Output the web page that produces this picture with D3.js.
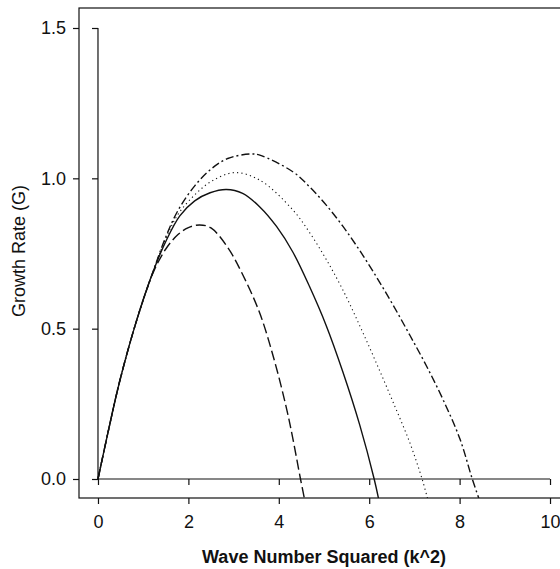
<!DOCTYPE html>
<html>
<head>
<meta charset="utf-8">
<script src="https://cdn.jsdelivr.net/npm/d3@7"></script>
<style>
  html, body { margin: 0; padding: 0; background: #fff; }
  svg { display: block; }
  text { font-family: "Liberation Sans", Arial, Helvetica, sans-serif; fill: #111; }
</style>
</head>
<body>
<div id="chart"></div>
<script>
// ---- data ----
const xTicks = [0, 2, 4, 6, 8, 10];
const yTicks = [0, 0.5, 1.0, 1.5];
const yTickLabels = ["0.0", "0.5", "1.0", "1.5"];
const xTitle = "Wave Number Squared (k^2)";
const yTitle = "Growth Rate (G)";

// k^2 and G samples for each curve
const dashedK  = [0, 0.2, 0.48, 0.86, 1.22, 1.5, 1.77, 2.0, 2.25, 2.5, 2.87, 3.2, 3.58, 3.91, 4.17, 4.31, 4.48, 4.58];
const dashedG  = [0, 0.14, 0.325, 0.53, 0.686, 0.765, 0.813, 0.836, 0.845, 0.835, 0.77, 0.68, 0.551, 0.39, 0.235, 0.135, 0, -0.075];

const solidK   = [0, 0.2, 0.48, 0.86, 1.22, 1.5, 1.81, 2.14, 2.48, 2.84, 3.2, 3.58, 3.95, 4.31, 4.68, 5.05, 5.42, 5.79, 6.11, 6.22];
const solidG   = [0, 0.14, 0.325, 0.53, 0.69, 0.79, 0.875, 0.925, 0.952, 0.963, 0.95, 0.905, 0.84, 0.755, 0.64, 0.51, 0.355, 0.18, 0, -0.075];

const dottedK  = [0, 0.2, 0.48, 0.86, 1.22, 1.5, 1.77, 2.14, 2.51, 3.02, 3.58, 4.31, 4.68, 5.05, 5.42, 5.79, 6.16, 6.53, 6.90, 7.17, 7.3];
const dottedG  = [0, 0.14, 0.325, 0.53, 0.69, 0.80, 0.88, 0.945, 0.99, 1.019, 0.994, 0.895, 0.82, 0.73, 0.628, 0.51, 0.385, 0.255, 0.12, 0, -0.07];

const dashDotK = [0, 0.2, 0.48, 0.86, 1.22, 1.5, 1.77, 2.14, 2.51, 2.87, 3.39, 3.58, 4.31, 4.68, 5.05, 5.42, 5.79, 6.16, 6.53, 6.90, 7.27, 7.64, 8.01, 8.28, 8.45];
const dashDotG = [0, 0.14, 0.325, 0.53, 0.69, 0.805, 0.893, 0.975, 1.032, 1.066, 1.081, 1.077, 1.022, 0.972, 0.911, 0.84, 0.76, 0.672, 0.578, 0.478, 0.375, 0.262, 0.132, 0, -0.075];

const seriesNames = ["dashed", "solid", "dotted", "dashdot"];
const seriesK = [dashedK, solidK, dottedK, dashDotK];
const seriesG = [dashedG, solidG, dottedG, dashDotG];
const seriesDash = [ "10,4", null, "1.2,3.2", "8,3,2,3" ];

// ---- layout ----
const W = 560, H = 569;
const frame = { left: 79, top: 8, right: 569, bottom: 498 };

const svg = d3.select("#chart").append("svg")
  .attr("width", W).attr("height", H);

const x = d3.scaleLinear().domain([-0.42, 10.42]).range([frame.left, frame.right]);
const y = d3.scaleLinear().domain([-0.0632, 1.5665]).range([frame.bottom, frame.top]);

svg.append("defs").append("clipPath").attr("id", "plotclip")
  .append("rect")
  .attr("x", frame.left).attr("y", frame.top)
  .attr("width", frame.right - frame.left).attr("height", frame.bottom - frame.top);

// frame box
svg.append("rect")
  .attr("x", frame.left).attr("y", frame.top)
  .attr("width", frame.right - frame.left).attr("height", frame.bottom - frame.top)
  .attr("fill", "none").attr("stroke", "#111").attr("stroke-width", 1.2);

// outer axes with labels
const xAxis = d3.axisBottom(x).tickValues(xTicks).tickSize(6).tickPadding(11)
  .tickFormat(d3.format("d")).tickSizeOuter(0);
const gx = svg.append("g").attr("transform", `translate(0,${frame.bottom})`).call(xAxis);
gx.select(".domain").remove();

const yAxis = d3.axisLeft(y).tickValues(yTicks).tickSize(6).tickPadding(7)
  .tickFormat((d, i) => yTickLabels[i]).tickSizeOuter(0);
const gy = svg.append("g").attr("transform", `translate(${frame.left},0)`).call(yAxis);
gy.select(".domain").remove();

// inner axes through the origin (no labels); axis line spans only the tick range
const xAxisIn = d3.axisBottom(x).tickValues(xTicks).tickSize(6).tickFormat("").tickSizeOuter(0);
const gxi = svg.append("g").attr("transform", `translate(0,${y(0)})`).call(xAxisIn);
gxi.select(".domain").remove();
gxi.append("line").attr("x1", x(xTicks[0])).attr("x2", x(xTicks[xTicks.length - 1]))
  .attr("y1", 0).attr("y2", 0).attr("class", "axisline");

const yAxisIn = d3.axisLeft(y).tickValues(yTicks).tickSize(6).tickFormat("").tickSizeOuter(0);
const gyi = svg.append("g").attr("transform", `translate(${x(0)},0)`).call(yAxisIn);
gyi.select(".domain").remove();
gyi.append("line").attr("x1", 0).attr("x2", 0)
  .attr("y1", y(yTicks[0])).attr("y2", y(yTicks[yTicks.length - 1])).attr("class", "axisline");

svg.selectAll(".tick line, .axisline").attr("stroke", "#111").attr("stroke-width", 1.2);
svg.selectAll(".tick text").style("font-size", "18px")
  .style("font-family", "'Liberation Sans', Arial, sans-serif").attr("fill", "#111");

// curves
const line = d3.line().x(d => x(d[0])).y(d => y(d[1])).curve(d3.curveCatmullRom.alpha(0.5));
const curves = svg.append("g").attr("clip-path", "url(#plotclip)");
seriesNames.forEach((name, i) => {
  const pts = seriesK[i].map((k, j) => [k, seriesG[i][j]]);
  curves.append("path")
    .datum(pts)
    .attr("class", name)
    .attr("d", line)
    .attr("fill", "none")
    .attr("stroke", "#111")
    .attr("stroke-width", name === "dotted" ? 1.1 : 1.4)
    .attr("stroke-dasharray", seriesDash[i]);
});

// titles
svg.append("text")
  .attr("x", (x(0) + x(10)) / 2).attr("y", 563)
  .attr("text-anchor", "middle")
  .style("font-size", "18px").style("font-weight", "bold")
  .text(xTitle);

svg.append("text")
  .attr("transform", `translate(25,251) rotate(-90)`)
  .attr("text-anchor", "middle")
  .style("font-size", "18px")
  .text(yTitle);
</script>
</body>
</html>
